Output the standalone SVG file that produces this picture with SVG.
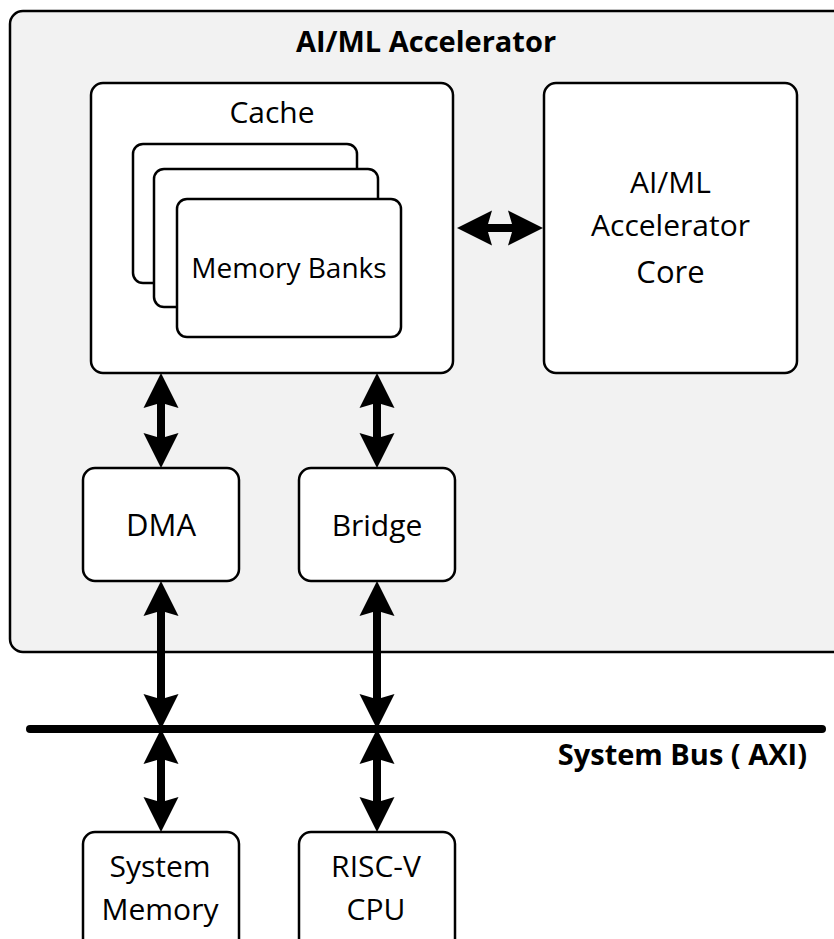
<svg xmlns="http://www.w3.org/2000/svg" width="834" height="939" viewBox="0 0 834 939">
<style>
.box{fill:#fff;stroke:#000;stroke-width:2.5}
.outer{fill:#f2f2f2;stroke:#000;stroke-width:2.5}
.t{font-family:"Open Sans","Liberation Sans",sans-serif;fill:#000;text-anchor:middle}
.b{font-weight:bold}
.arr{stroke:#000;stroke-width:8;fill:none;marker-start:url(#ah);marker-end:url(#ah)}
.bus{stroke:#000;stroke-width:8;stroke-linecap:round}
</style>
<defs>
<marker id="ah" markerUnits="userSpaceOnUse" viewBox="0 -18 36 36" refX="15" refY="0" markerWidth="36" markerHeight="36" orient="auto-start-reverse">
<path d="M35,0 L0,-17.5 L4,-4 L4,4 L0,17.5 Z" fill="#000"/>
</marker>
</defs>
<g id="accelerator">
<rect class="outer" x="10" y="11" width="840" height="641" rx="13"/>
<text class="t b" x="426" y="52" font-size="29">AI/ML Accelerator</text>
</g>
<g id="cache">
<rect class="box" x="91" y="83" width="362" height="290" rx="12"/>
<text class="t" x="272" y="123" font-size="30">Cache</text>
</g>
<g id="memory-banks">
<rect class="box" x="133" y="144" width="224" height="139" rx="10"/>
<rect class="box" x="154" y="169" width="224" height="138" rx="10"/>
<rect class="box" x="177" y="199" width="224" height="138" rx="10"/>
<text class="t" x="289" y="278" font-size="28">Memory Banks</text>
</g>
<g id="core">
<rect class="box" x="544" y="83" width="253" height="290" rx="12"/>
<text class="t" x="670.5" y="193" font-size="30">AI/ML</text>
<text class="t" x="670.5" y="236" font-size="30">Accelerator</text>
<text class="t" x="670.5" y="283" font-size="31">Core</text>
</g>
<g id="dma">
<rect class="box" x="83" y="468" width="156" height="113" rx="12"/>
<text class="t" x="161" y="536" font-size="31">DMA</text>
</g>
<g id="bridge">
<rect class="box" x="299" y="468" width="156" height="113" rx="12"/>
<text class="t" x="377" y="536" font-size="30">Bridge</text>
</g>
<g id="system-bus">
<line class="bus" x1="30" y1="729" x2="822" y2="729"/>
<text class="t b" x="807" y="765" font-size="29" style="text-anchor:end">System Bus ( AXI)</text>
</g>
<g id="system-memory">
<rect class="box" x="83" y="832" width="156" height="130" rx="12"/>
<text class="t" x="160" y="877" font-size="30">System</text>
<text class="t" x="160" y="920" font-size="30">Memory</text>
</g>
<g id="riscv-cpu">
<rect class="box" x="299" y="832" width="156" height="130" rx="12"/>
<text class="t" x="376" y="877" font-size="30">RISC-V</text>
<text class="t" x="376" y="920" font-size="30">CPU</text>
</g>
<g id="connectors">
<line class="arr" x1="477" y1="228" x2="523" y2="228"/>
<line class="arr" x1="161" y1="393" x2="161" y2="448"/>
<line class="arr" x1="377" y1="393" x2="377" y2="448"/>
<line class="arr" x1="161" y1="601" x2="161" y2="709"/>
<line class="arr" x1="377" y1="601" x2="377" y2="709"/>
<line class="arr" x1="161" y1="749" x2="161" y2="812"/>
<line class="arr" x1="377" y1="749" x2="377" y2="812"/>
</g>
</svg>
